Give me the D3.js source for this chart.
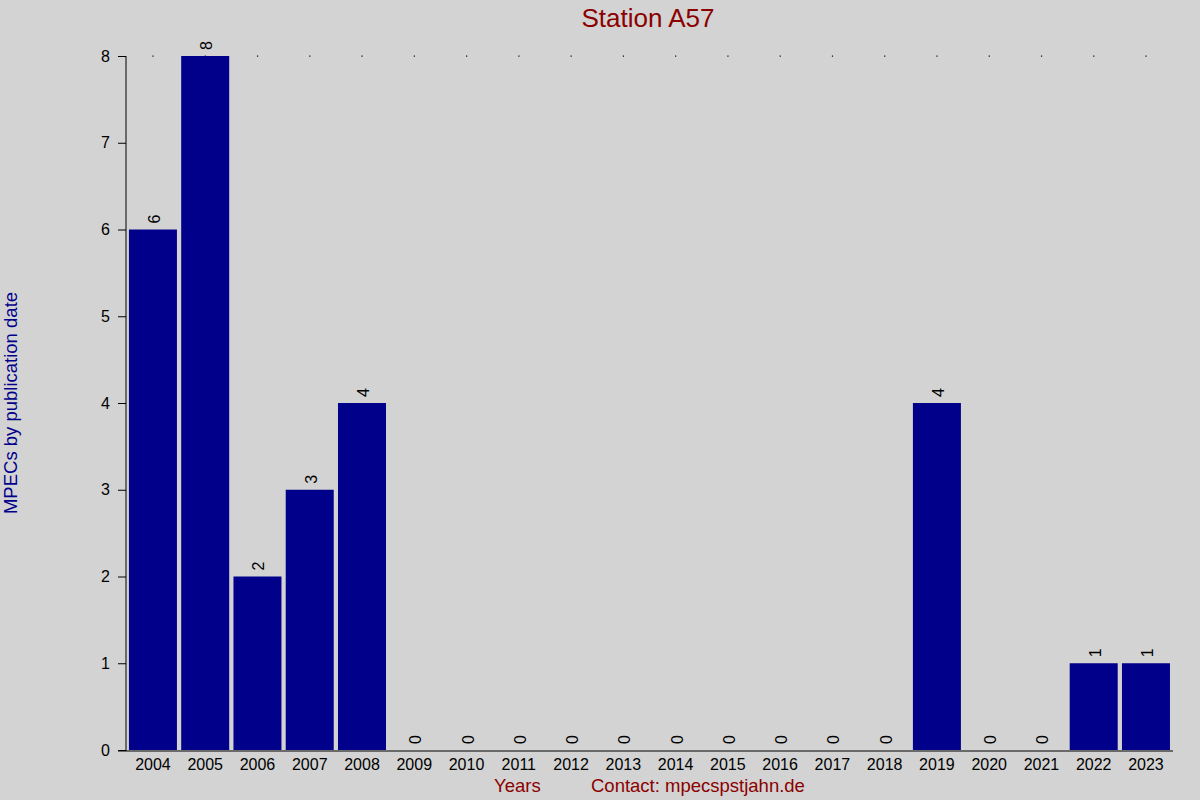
<!DOCTYPE html>
<html>
<head>
<meta charset="utf-8">
<script src="https://cdn.jsdelivr.net/npm/d3@7"></script>
<style>
  body { margin: 0; background: #d3d3d3; }
  svg { display: block; font-family: "Liberation Sans", Arial, sans-serif; }
</style>
</head>
<body>
<svg width="1200" height="800"></svg>
<script>
// MPECs per year for station A57
const years = ["2004","2005","2006","2007","2008","2009","2010","2011","2012","2013",
               "2014","2015","2016","2017","2018","2019","2020","2021","2022","2023"];
const counts = [6, 8, 2, 3, 4, 0, 0, 0, 0, 0, 0, 0, 0, 0, 0, 4, 0, 0, 1, 1];
const yTicks = [0, 1, 2, 3, 4, 5, 6, 7, 8];

const svg = d3.select("svg");

const x = d3.scaleBand()
    .domain(years)
    .range([126.8, 1172.1])
    .paddingInner(0.0815)
    .paddingOuter(0.04075);

const y = d3.scaleLinear()
    .domain([0, 8])
    .range([750, 56]);

// little dots along the top
svg.append("g").selectAll("rect")
    .data(years)
    .enter()
    .append("rect")
    .attr("x", d => x(d) + x.bandwidth() / 2 - 0.5)
    .attr("y", y(8) - 0.5)
    .attr("width", 1.2)
    .attr("height", 1.2)
    .attr("fill", "#000");

// bars
svg.append("g").selectAll("rect")
    .data(years)
    .enter()
    .append("rect")
    .attr("x", d => x(d))
    .attr("y", (d, i) => y(counts[i]))
    .attr("width", x.bandwidth())
    .attr("height", (d, i) => y(0) - y(counts[i]))
    .attr("fill", "#00008b");

// value labels, rotated
svg.append("g").selectAll("text")
    .data(years)
    .enter()
    .append("text")
    .attr("transform", (d, i) => "translate(" + (x(d) + x.bandwidth() / 2 + 7) + "," + (y(counts[i]) - 6) + ") rotate(-90)")
    .attr("font-size", 16)
    .attr("fill", "#000")
    .text((d, i) => counts[i]);

// y axis
const yAxis = svg.append("g")
    .attr("transform", "translate(126,0)")
    .call(d3.axisLeft(y).tickValues(yTicks).tickFormat(d3.format("d")).tickSize(8).tickSizeOuter(0).tickPadding(8));
yAxis.select(".domain").attr("stroke", "#000").attr("d", "M0," + y(8) + "V" + (y(0) + 1));
yAxis.selectAll("text").attr("font-size", 16).attr("font-family", "Liberation Sans, Arial, sans-serif").attr("fill", "#000");

// x axis
const xAxis = svg.append("g")
    .attr("transform", "translate(0," + (y(0) + 1) + ")")
    .call(d3.axisBottom(x).tickSize(0).tickPadding(7.5));
xAxis.select(".domain").attr("d", "M118,0H1173").attr("stroke", "#000");
xAxis.selectAll("text").attr("font-size", 16).attr("font-family", "Liberation Sans, Arial, sans-serif").attr("fill", "#000");

// titles
svg.append("text")
    .attr("x", 648)
    .attr("y", 27)
    .attr("text-anchor", "middle")
    .attr("font-size", 26)
    .attr("fill", "#8b0000")
    .text("Station A57");

svg.append("text")
    .attr("transform", "translate(17,403) rotate(-90)")
    .attr("text-anchor", "middle")
    .attr("font-size", 18.5)
    .attr("fill", "#00008b")
    .text("MPECs by publication date");

svg.append("text")
    .attr("x", 494)
    .attr("y", 792)
    .attr("font-size", 18.5)
    .attr("fill", "#8b0000")
    .text("Years");

svg.append("text")
    .attr("x", 591)
    .attr("y", 792)
    .attr("font-size", 18.5)
    .attr("fill", "#8b0000")
    .text("Contact: mpecspstjahn.de");
</script>
</body>
</html>
